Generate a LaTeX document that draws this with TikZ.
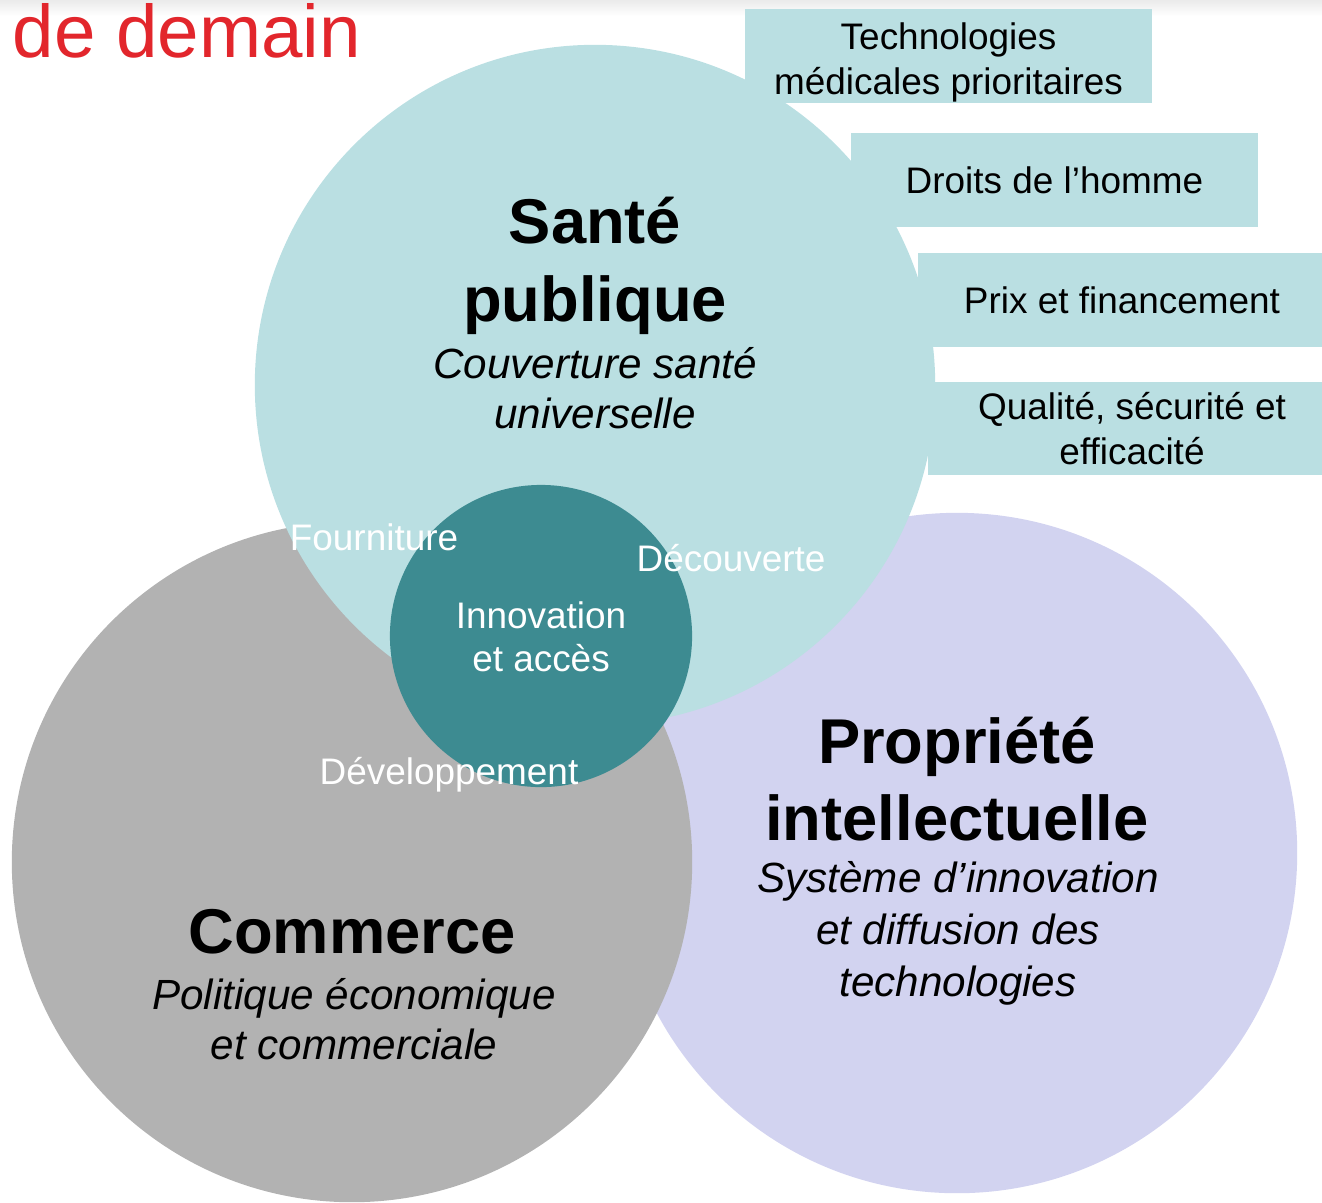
\documentclass[tikz,border=0pt]{standalone}
\usepackage{fontspec}
\setmainfont{Liberation Sans}
\usetikzlibrary{shapes.geometric}
\definecolor{santefill}{HTML}{BADFE2}
\definecolor{corefill}{HTML}{3D8B91}
\definecolor{commfill}{HTML}{B2B2B2}
\definecolor{ipfill}{HTML}{D2D3F0}
\definecolor{titlered}{HTML}{E2262C}
\newcommand{\mkbox}[6][]{% #1: optional extra keys, #2: name, #3: x, #4: y, #5: width, #6: text
	\node[tagbox,minimum width=#5,#1] (#2) at (#3,#4) {#6};
}
\newcommand{\mkdisc}[5]{% #1: name, #2: color, #3: x, #4: y, #5: diameter
	\node[disc,fill=#2,minimum size=#5] (#1) at (#3,#4) {};
}

\begin{document}
\begin{tikzpicture}[x=0.01cm,y=-0.01cm,
	disc/.style={circle,draw=none,inner sep=0pt},
	tagbox/.style={rectangle,fill=santefill,minimum height=0.93cm,inner sep=0pt,align=center,
		font=\fontsize{10.5}{12.8}\selectfont},
	heading/.style={align=center,font=\fontsize{18}{22}\selectfont\bfseries},
	subline/.style={align=center,font=\fontsize{12}{14.2}\selectfont\itshape},
	whitelbl/.style={text=white,inner sep=0pt,font=\fontsize{10.5}{12.2}\selectfont}]
	\useasboundingbox (0,0) rectangle (1322,1202);
	
	% Slide header shade
	\shade[top color=black!8,bottom color=white] (0,0) rectangle (1322,16);
	\node[anchor=base west,inner sep=0pt,text=titlered,font=\fontsize{21.2}{25}\selectfont] (title) at (12,57) {de demain};
	
	% Draw the three domains and the core
	\mkdisc{ipdisc}{ipfill}{957}{853}{6.8cm}
	\mkdisc{commdisc}{commfill}{352}{862}{6.8cm}
	\mkdisc{santedisc}{santefill}{595}{385}{6.8cm}
	\mkdisc{coredisc}{corefill}{541}{636}{3.02cm}
	
	% Side boxes
	\mkbox[text height=0.84cm]{techbox}{948.5}{56}{4.07cm}{Technologies\\médicales prioritaires}
	\mkbox{rightsbox}{1054.5}{180}{4.07cm}{Droits de l’homme}
	\mkbox{pricebox}{1122}{300}{4.08cm}{Prix et financement}
	\mkbox{qualbox}{1132}{428.5}{4.08cm}{Qualité, sécurité et\\efficacité}
	
	% Domain titles
	\node[heading] (santehead) at (595,266) {Santé\\publique};
	\node[subline] (santesub) at (595,388) {Couverture santé\\universelle};
	\node[heading] (iphead) at (957,779) {Propriété\\intellectuelle};
	\node[subline,font=\fontsize{12}{14.8}\selectfont\itshape] (ipsub) at (958,933) {Système d’innovation\\et diffusion des\\technologies};
	\node[heading,anchor=base] (commhead) at (352,953) {Commerce};
	\node[subline] (commsub) at (354,1019) {Politique économique\\et commerciale};
	
	% Labels in white
	\node[whitelbl,align=center] (core) at (541,637) {Innovation\\et accès};
	\node[whitelbl,anchor=base] (supply) at (374,550) {Fourniture};
	\node[whitelbl,anchor=base] (discovery) at (731,571) {Découverte};
	\node[whitelbl,anchor=base] (develop) at (449,784) {Développement};
\end{tikzpicture}
\end{document}
